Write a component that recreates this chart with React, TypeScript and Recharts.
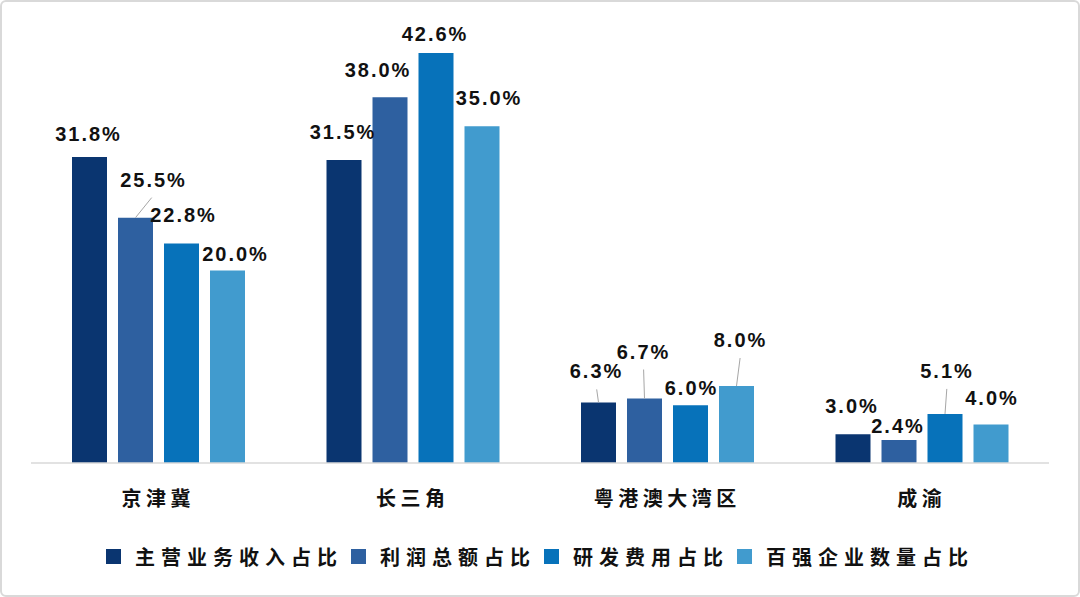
import { Bar, BarChart, Legend, LabelList, XAxis, YAxis } from 'recharts';

const CATEGORIES = ['京津冀', '长三角', '粤港澳大湾区', '成渝'];
const SERIES_NAMES = ['主营业务收入占比', '利润总额占比', '研发费用占比', '百强企业数量占比'];
const REVENUE = [31.8, 31.5, 6.3, 3.0];
const PROFIT = [25.5, 38.0, 6.7, 2.4];
const RD_COST = [22.8, 42.6, 6.0, 5.1];
const TOP100 = [20.0, 35.0, 8.0, 4.0];

const COLORS = ['#0A3570', '#2E60A0', '#0772BA', '#419BCE'];
const KEYS = ['revenue', 'profit', 'rd', 'top100'];

const DATA = CATEGORIES.map((name, i) => ({
  name,
  revenue: REVENUE[i],
  profit: PROFIT[i],
  rd: RD_COST[i],
  top100: TOP100[i],
}));

// label nudges (dx from bar centre, dy of text centre from bar top), per series then category
const LABEL_SHIFT = [
  [[-1, -23], [-1, -28], [-2, -31], [-1, -28]],
  [[18, -38], [-12, -27], [-1, -47], [-1, -14]],
  [[2, -29], [-1, -19], [1, -17], [2, -43]],
  [[8, -17], [7, -28], [4, -46], [1, -27]],
];
const LEADER = [
  [false, false, true, false],
  [true, false, true, false],
  [false, false, false, true],
  [false, false, true, false],
];

const W = 1080;
const H = 597;

function makeLabel(series: number) {
  return function ValueLabel(props: any) {
    const vb = props.viewBox ?? props;
    const { x, y, width } = vb;
    const idx = props.index;
    if (x == null || idx == null) return null;
    const [dx, dy] = LABEL_SHIFT[series][idx];
    const cx = x + width / 2;
    const ty = y + dy;
    return (
      <g>
        {LEADER[series][idx] && (
          <line x1={cx} y1={y} x2={cx + dx * 0.9} y2={ty + 18} stroke="#a6a6a6" strokeWidth={1} />
        )}
        <text
          x={cx + dx}
          y={ty}
          textAnchor="middle"
          dominantBaseline="central"
          fontFamily="'Liberation Sans', Arial, sans-serif"
          fontWeight={700}
          fontSize={20}
          letterSpacing={2}
          fill="#111"
        >
          {Number(props.value).toFixed(1) + '%'}
        </text>
      </g>
    );
  };
}

function CategoryTick(props: any) {
  const { x, y, payload } = props;
  return (
    <text
      x={x}
      y={y + 34}
      textAnchor="middle"
      dominantBaseline="central"
      fontFamily="'Noto Sans CJK SC', sans-serif"
      fontWeight={700}
      fontSize={20}
      letterSpacing={4.5}
      fill="#111"
    >
      {payload.value}
    </text>
  );
}

function LegendRow() {
  return (
    <div
      style={{
        display: 'flex',
        justifyContent: 'center',
        alignItems: 'center',
        height: 30,
        fontFamily: "'Noto Sans CJK SC', sans-serif",
        fontWeight: 700,
        fontSize: 20,
        letterSpacing: 6,
        color: '#111',
      }}
    >
      {SERIES_NAMES.map((n, i) => (
        <div key={n} style={{ display: 'flex', alignItems: 'center', marginRight: i < 3 ? 8 : 0 }}>
          <span style={{ width: 15, height: 15, background: COLORS[i], marginRight: 14, display: 'inline-block' }} />
          <span>{n}</span>
        </div>
      ))}
    </div>
  );
}

export default function App() {
  return (
    <div style={{ position: 'absolute', left: 0, top: 0, width: W, height: H, background: '#fff' }}>
      <BarChart
        width={W}
        height={H}
        data={DATA}
        margin={{ top: 30, right: 31, left: 31, bottom: 84 }}
        barSize={35}
        barGap={11}
      >
        <XAxis
          dataKey="name"
          tickLine={false}
          tickSize={0}
          tickMargin={0}
          height={50}
          axisLine={{ stroke: '#d9d9d9', strokeWidth: 1.5 }}
          tick={<CategoryTick />}
          interval={0}
        />
        <YAxis hide domain={[0, 45]} />
        <Legend
          layout="horizontal"
          verticalAlign="middle"
          align="center"
          content={<LegendRow />}
          wrapperStyle={{ top: 541, left: 0, width: W }}
        />
        {KEYS.map((k, i) => (
          <Bar key={k} dataKey={k} name={SERIES_NAMES[i]} fill={COLORS[i]} isAnimationActive={false}>
            <LabelList dataKey={k} content={makeLabel(i)} />
          </Bar>
        ))}
      </BarChart>
      <div
        style={{
          position: 'absolute',
          left: 0,
          top: 0,
          width: W,
          height: H,
          boxSizing: 'border-box',
          border: '2px solid #d9d9d9',
          borderRadius: 6,
          pointerEvents: 'none',
        }}
      />
    </div>
  );
}
